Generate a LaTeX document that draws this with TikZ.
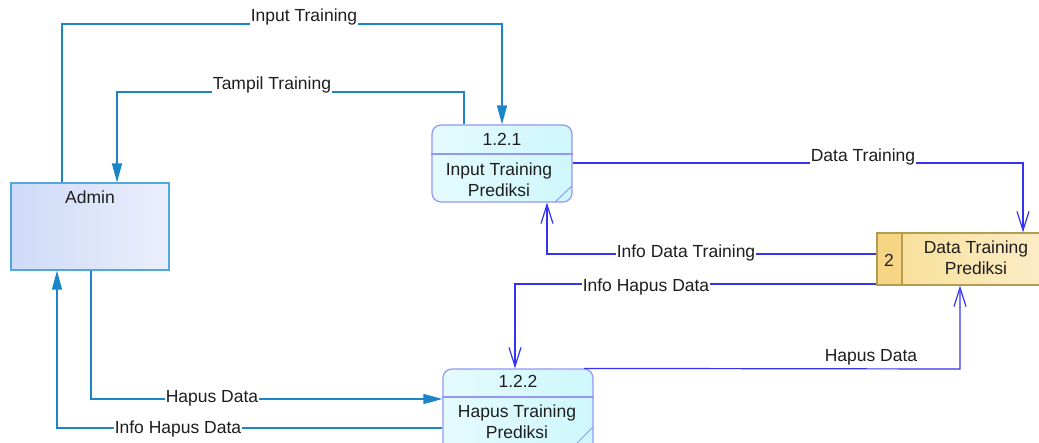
\documentclass[tikz,border=0pt]{standalone}
\usepackage{fontspec}
\setmainfont{Liberation Sans}
\usetikzlibrary{arrows.meta,calc}
\definecolor{aflow}{RGB}{26,134,200}
\definecolor{dflow}{RGB}{52,52,240}
\definecolor{adminborder}{RGB}{80,168,220}
\definecolor{procborder}{RGB}{150,150,245}
\definecolor{dsborder}{RGB}{180,156,80}
\definecolor{txt}{RGB}{30,30,30}
\definecolor{adminA}{RGB}{206,218,247}
\definecolor{adminB}{RGB}{236,239,253}
\definecolor{procA}{RGB}{228,251,254}
\definecolor{procB}{RGB}{206,247,252}
\definecolor{dsA}{RGB}{248,222,148}
\definecolor{dsB}{RGB}{252,240,210}
\definecolor{dsL}{RGB}{246,214,132}
\begin{document}
\begin{tikzpicture}[x=1pt,y=-1pt,
  font=\fontsize{17.5}{21}\selectfont,
  every node/.style={text=txt},
  adminbox/.style={draw=adminborder,line width=1.2pt,left color=adminA,right color=adminB,minimum width=158pt,minimum height=87pt,inner sep=0pt},
  procbox/.style={draw=procborder,line width=1.2pt,rounded corners=9pt,left color=procA,right color=procB,inner sep=0pt},
  dsbox/.style={draw=dsborder,line width=1.2pt,left color=dsA,right color=dsB,inner sep=0pt},
  aline/.style={draw=aflow,line width=1.3pt,-{Triangle[length=19pt,width=10pt]}},
  dline/.style={draw=dflow,line width=1.2pt,-{Straight Barb[length=19pt,width=12pt,line width=1.2pt]}},
  lbl/.style={fill=white,inner sep=1pt}
]
\useasboundingbox (0,0) rectangle (1039,443);
\clip (0,0) rectangle (1039,443);
\fill[white] (0,0) rectangle (1039,443);

% Entities and processes
\node[adminbox] (admin) at (90,226.5) {};
\node at (90,197) {Admin};

\node[procbox,minimum width=140pt,minimum height=77pt] (p1) at (502,163.5) {};
\draw[procborder,line width=1.2pt] (p1.west |- 0,154) -- (p1.east |- 0,154);
\draw[procborder,line width=1pt] (572,186) -- (555,202);
\node at (502,139) {1.2.1};
\node[align=center] at (499,179.5) {Input Training\\Prediksi};

\node[procbox,minimum width=150pt,minimum height=95pt] (p2) at (518,416.5) {};
\draw[procborder,line width=1.2pt] (p2.west |- 0,397) -- (p2.east |- 0,397);
\draw[procborder,line width=1pt] (593,427) -- (577,443);
\node at (518,381) {1.2.2};
\node[align=center] at (517,421.5) {Hapus Training\\Prediksi};

\node[dsbox,minimum width=203pt,minimum height=52pt] (ds) at (978.5,259) {};
\fill[dsL] (877.6,233.6) rectangle (902,284.4);
\draw[dsborder,line width=1.2pt] (902,233) -- (902,285);
\draw[dsborder,line width=1.2pt] (ds.north west) rectangle (ds.south east);
\node at (889,260) {2};
\node[align=center] at (976,257.5) {Data Training\\Prediksi};

% Admin flows
\draw[aline] (admin.north -| 62,0) -- (62,24) -- (502,24) -- (p1.north);
\node[lbl] at (304,17) {Input Training};

\draw[aline] (p1.north -| 464,0) -- (464,92) -- (117,92) -- (admin.north -| 117,0);
\node[lbl] at (272,85) {Tampil Training};

\draw[aline] (admin.south -| 91,0) -- (91,399) -- (p2.west |- 0,399);
\node[lbl] at (212,398) {Hapus Data};

\draw[aline] (p2.west |- 0,428) -- (57,428) -- (admin.south -| 57,0);
\node[lbl] at (178,429) {Info Hapus Data};

% Data store flows
\draw[dline] (p1.east |- 0,163) -- (1023,163) -- (ds.north -| 1023,0);
\node[lbl] at (863,157) {Data Training};

\draw[dline] (ds.west |- 0,254) -- (547,254) -- (p1.south -| 547,0);
\node[lbl] at (686,253) {Info Data Training};

\draw[dline] (ds.west |- 0,284) -- (515,284) -- (p2.north -| 515,0);
\node[lbl] at (646,287) {Info Hapus Data};

\draw[dline] (p2.north -| 584,0) -- (960,369) -- (ds.south -| 960,0);
\node[lbl] at (871,357) {Hapus Data};
\end{tikzpicture}
\end{document}
